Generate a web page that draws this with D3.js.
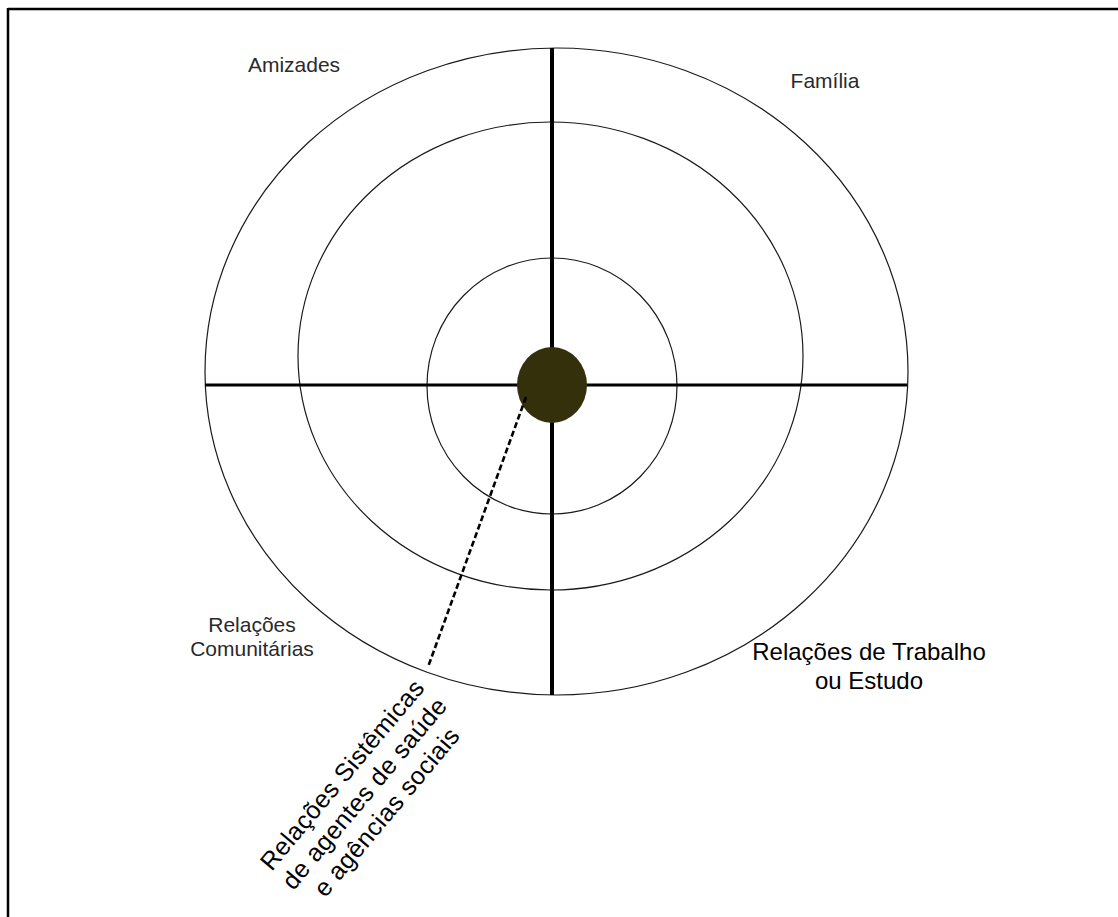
<!DOCTYPE html>
<html>
<head>
<meta charset="utf-8">
<script src="https://cdn.jsdelivr.net/npm/d3@7"></script>
<style>
  body { margin: 0; background: #fff; }
  svg { display: block; }
  text { font-family: "Liberation Sans", Arial, sans-serif; }
</style>
</head>
<body>
<svg id="map"></svg>
<script>
// rings of the ecomap, in diagram units (centre = hub, y up)
const ringNames = ["inner", "middle", "outer"];
const ringRx = [125, 252.5, 351.5];
const ringRy = [128, 234, 323.5];
const ringDx = [0, -1.5, 4.5];
const ringDy = [-1, 29, 13.5];

// quadrant labels
const quadrantLabels = [
    ["Amizades"],
    ["Família"],
    ["Relações", "Comunitárias"],
    ["Relações de Trabalho", "ou Estudo"]
];
const systemicLabel = ["Relações Sistêmicas", "de agentes de saúde", "e agências sociais"];

// cross axes and the hub
const axisX = [-347, 355];
const axisY = [-310, 337];
const hub = {rx: 35, ry: 38};
const pointer = [[-26, -12], [-124, -282]];

const width = 1118, height = 917;

function createMap(width, height) {
    d3.select("#map")
        .attr("width", width)
        .attr("height", height);
}

function drawMap() {
    let map = d3.select("#map");

    let x = d3.scaleLinear().domain([-400, 400]).range([152, 952]);
    let y = d3.scaleLinear().domain([-400, 400]).range([785, -15]);
    let k = (x(1) - x(0));

    // frame (only top and left are visible in the picture)
    map.append("line")
        .attr("x1", 8).attr("y1", 9).attr("x2", width).attr("y2", 9)
        .attr("stroke", "#000").attr("stroke-width", 2.5);
    map.append("line")
        .attr("x1", 8).attr("y1", 8).attr("x2", 8).attr("y2", height)
        .attr("stroke", "#000").attr("stroke-width", 2.5);

    map.selectAll(".ring")
        .data(ringNames)
        .enter()
        .append("ellipse")
            .classed("ring", true)
            .attr("cx", (d, i) => x(ringDx[i]))
            .attr("cy", (d, i) => y(ringDy[i]))
            .attr("rx", (d, i) => ringRx[i] * k)
            .attr("ry", (d, i) => ringRy[i] * k)
            .attr("fill", "none")
            .attr("stroke", "#1a1a1a")
            .attr("stroke-width", 1.2);

    map.append("line")
        .attr("x1", x(axisX[0])).attr("x2", x(axisX[1]))
        .attr("y1", y(0)).attr("y2", y(0))
        .attr("stroke", "#000").attr("stroke-width", 3);
    map.append("line")
        .attr("x1", x(0)).attr("x2", x(0))
        .attr("y1", y(axisY[0])).attr("y2", y(axisY[1]))
        .attr("stroke", "#000").attr("stroke-width", 4);

    map.append("ellipse")
        .attr("cx", x(0)).attr("cy", y(0))
        .attr("rx", hub.rx * k).attr("ry", hub.ry * k)
        .attr("fill", "#33300b");

    map.append("path")
        .attr("d", d3.line().x(d => x(d[0])).y(d => y(d[1]))(pointer))
        .attr("stroke", "#000")
        .attr("stroke-width", 2.6)
        .attr("stroke-dasharray", "6,3")
        .attr("fill", "none");

    // labels
    let spots = [
        {x: 294, y: 72, size: 21, lh: 24, fill: "#2a2a2a"},
        {x: 825, y: 88, size: 21, lh: 24, fill: "#2a2a2a"},
        {x: 252, y: 632, size: 21, lh: 24, fill: "#2a2a2a"},
        {x: 869, y: 660, size: 24, lh: 29, fill: "#000"}
    ];
    quadrantLabels.forEach((lines, i) => {
        let s = spots[i];
        let t = map.append("text")
            .attr("x", s.x).attr("y", s.y)
            .attr("font-size", s.size + "px")
            .attr("fill", s.fill)
            .style("text-anchor", "middle");
        lines.forEach((l, j) => {
            t.append("tspan").attr("x", s.x).attr("y", s.y + j * s.lh).text(l);
        });
    });

    let g = map.append("g")
        .attr("transform", "translate(364,793) rotate(-50)");
    g.selectAll("text")
        .data(systemicLabel)
        .enter()
        .append("text")
            .attr("x", 0)
            .attr("y", (d, i) => (i - 1) * 29)
            .attr("dy", "0.36em")
            .attr("font-size", "25px")
            .attr("letter-spacing", "0.4px")
            .attr("fill", "#000")
            .style("text-anchor", "middle")
            .text(d => d);
}

createMap(width, height);
drawMap();
</script>
</body>
</html>
